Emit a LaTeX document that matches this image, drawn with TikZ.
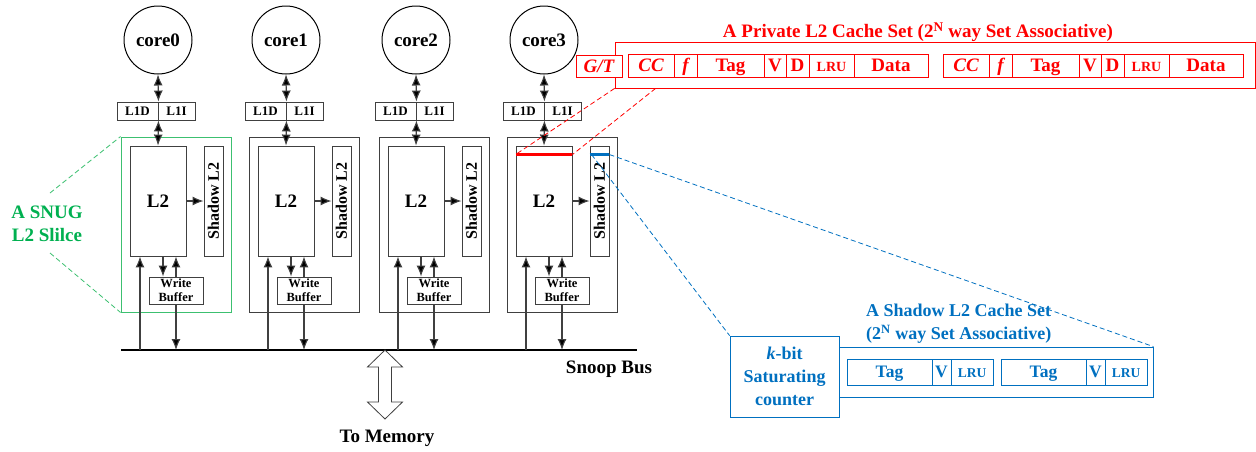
\documentclass[tikz,border=0pt]{standalone}
\usepackage{fontspec}
\setmainfont{Liberation Serif}
\usetikzlibrary{arrows.meta,calc}
\definecolor{lc}{HTML}{404040}
\definecolor{myred}{HTML}{FF0000}
\definecolor{myblue}{HTML}{0070C0}
\definecolor{mygreen}{HTML}{00B050}
\definecolor{lgreen}{HTML}{3CC070}
\newcommand\fsz[2]{\fontsize{#1}{#2}\selectfont}
\begin{document}
\begin{tikzpicture}[x=1pt,y=-1pt,
  ln/.style={draw=lc,line width=1.1pt},
  arr/.style={ln,-{Latex[length=11pt,width=9pt,fill=black]}},
  darr/.style={ln,{Latex[length=11pt,width=9pt,fill=black]}-{Latex[length=11pt,width=9pt,fill=black]}},
  blk/.style={draw=lc,line width=0.9pt,rectangle,inner sep=0pt},
  rcell/.style={draw=myred,text=myred,line width=0.8pt,rectangle,inner sep=0pt,minimum height=23pt,text height=12.5pt,text depth=0pt,font=\fsz{19}{21}\bfseries},
  bcell/.style={draw=myblue,text=myblue,line width=0.8pt,rectangle,inner sep=0pt,minimum height=26pt,text height=11.5pt,text depth=0pt,font=\fsz{17.5}{20}\bfseries},
  rdash/.style={draw=myred,line width=0.8pt,dash pattern=on 5pt off 3pt},
  bdash/.style={draw=myblue,line width=0.8pt,dash pattern=on 5pt off 3pt},
  gdash/.style={draw=lgreen,line width=0.8pt,dash pattern=on 5pt off 3pt}]
\useasboundingbox (0,0) rectangle (1256,451);

% bus
\coordinate (busL) at (121,350);
\coordinate (busR) at (637,350);
\draw[black,line width=2.5pt] (busL) -- (busR);

\foreach \i/\cx/\sc in {0/158/lgreen,1/286/lc,2/416/lc,3/544/lc}{
  \node[circle,draw=black,line width=1pt,minimum size=68pt,inner sep=0pt,font=\fsz{19}{21}\bfseries] (c\i) at (\cx,40) {core\i};
  \node[blk,minimum width=41pt,minimum height=18pt,font=\fsz{13}{15}\bfseries] (l1d\i) at (\cx-20.5,111) {L1D};
  \node[blk,minimum width=37pt,minimum height=18pt,font=\fsz{13}{15}\bfseries] (l1i\i) at (\cx+18.5,111) {L1I};
  \node[rectangle,draw=\sc,line width=0.9pt,minimum width=110pt,minimum height=175pt,inner sep=0pt] (s\i) at (\cx+18,224.5) {};
  \node[blk,minimum width=56pt,minimum height=110pt,font=\fsz{19}{21}\bfseries] (l2\i) at (\cx,201) {L2};
  \node[blk,minimum width=19pt,minimum height=110pt] (sh\i) at (\cx+55.5,201) {};
  \node[rotate=90,inner sep=0pt,font=\fsz{16}{18}\bfseries] at (sh\i) {Shadow L2};
  \node[blk,minimum width=54pt,minimum height=27pt,align=center,font=\fsz{12.5}{14}\bfseries] (wb\i) at (\cx+18,290.5) {Write\\Buffer};
  \draw[darr] (c\i.south) -- (l1d\i.north east);
  \draw[darr] (l1d\i.south east) -- (l2\i.north);
  \draw[arr] (l2\i.east) -- (sh\i.west);
  \coordinate (dn\i) at ([xshift=5pt]l2\i.south);
  \coordinate (up\i) at ([xshift=-18pt]l2\i.south);
  \draw[arr] (dn\i) -- (dn\i |- wb\i.north);
  \draw[arr] (wb\i.north) -- (wb\i.north |- l2\i.south);
  \draw[arr] (up\i |- busL) -- (up\i);
  \draw[arr] (wb\i.south) -- (wb\i.south |- busL);
}

% memory double arrow
\draw[draw=lc,line width=0.8pt,fill=white] (385,350) -- (402.5,367) -- (391.5,367) -- (391.5,402) -- (402.5,402) -- (385,419) -- (367.5,402) -- (378.5,402) -- (378.5,367) -- (367.5,367) -- cycle;
\node[font=\fsz{19}{21}\bfseries] (mem) at (387,438) {To Memory};
\node[font=\fsz{19}{21}\bfseries] (snoop) at (609,369) {Snoop Bus};

% SNUG slice label
\node[text=mygreen,align=center,font=\fsz{19}{23}\bfseries] (snug) at (47,224) {A SNUG\\L2 Slilce};
\coordinate (g1) at (50,193);
\coordinate (g2) at (50,253);
\draw[gdash] (g1) -- (s0.north west);
\draw[gdash] (g2) -- (s0.south west);

% private L2 set
\node[text=myred,font=\fsz{19}{21}\bfseries] (ptitle) at (918,32) {A Private L2 Cache Set (2\textsuperscript{N} way Set Associative)};
\node[draw=myred,line width=0.8pt,rectangle,inner sep=0pt,minimum width=640pt,minimum height=46pt] (pset) at (935,65) {};
\node[rcell,fill=white,minimum width=46pt,minimum height=22pt] (gt) at (599,66) {\itshape G/T};
\foreach \o [count=\g] in {0,315}{
  \foreach \a/\b/\t/\n in {628/674/{\itshape CC}/cc,674/697/{\itshape f}/f,697/764/Tag/tag,764/786/V/v,786/809/D/d,809/854/{\fsz{14}{16}\bfseries LRU}/lru,854/928/Data/data}{
    \node[rcell,minimum width={(\b-\a)*1pt}] (r\n\g) at ({\o+(\a+\b)/2},65.5) {\t};
  }
}
\coordinate (ra) at ([yshift=-9pt]l23.north west);
\coordinate (rb) at ([yshift=-9pt]l23.north east);
\draw[rdash] (pset.south west) -- (ra);
\draw[rdash] ([xshift=41pt]pset.south west) -- (rb);
\draw[myred,line width=3.5pt] (ra) -- (rb);

% shadow set
\node[anchor=west,align=left,inner sep=0pt,text=myblue,font=\fsz{18}{23}\bfseries] (btitle) at (866,324) {A Shadow L2 Cache Set\\(2\textsuperscript{N} way Set Associative)};
\node[draw=myblue,line width=0.8pt,rectangle,inner sep=0pt,minimum width=314pt,minimum height=50pt] (bset) at (996,372) {};
\node[draw=myblue,fill=white,line width=0.8pt,rectangle,minimum width=109pt,minimum height=81pt,align=center,text=myblue,font=\fsz{18}{23}\bfseries] (kb) at (784.5,376.5) {\textit{k}-bit\\Saturating\\counter};
\foreach \o [count=\g] in {0,154}{
  \foreach \a/\b/\t/\n in {847/932/Tag/tag,932/951/V/v,951/993/{\fsz{13.5}{16}\bfseries LRU}/lru}{
    \node[bcell,minimum width={(\b-\a)*1pt}] (b\n\g) at ({\o+(\a+\b)/2},372) {\t};
  }
}
\coordinate (ba) at ([yshift=-9pt]sh3.north west);
\coordinate (bb) at ([yshift=-9pt]sh3.north east);
\draw[bdash] (bb) -- (bset.north east);
\draw[bdash] ([xshift=2pt]ba) -- (kb.north west);
\draw[myblue,line width=3.5pt] (ba) -- (bb);
\end{tikzpicture}
\end{document}
